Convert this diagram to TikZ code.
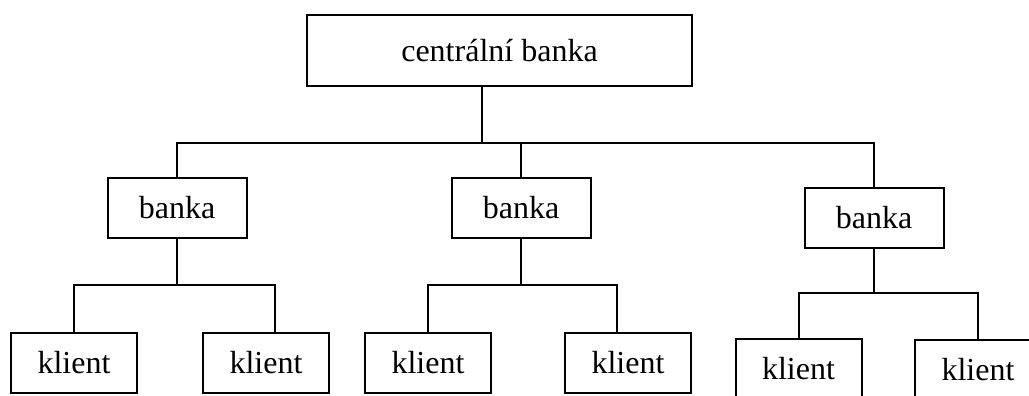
\documentclass[tikz,border=0pt]{standalone}
\usepackage{fontspec}
\setmainfont{Liberation Serif}
\usepackage{tikz}
\usetikzlibrary{positioning}

\begin{document}
\begin{tikzpicture}[x=0.5pt,y=-0.5pt,line width=1pt,
    box/.style={draw,line width=1pt,inner sep=0pt,font=\fontsize{16}{19}\selectfont},
    centralbox/.style={box,minimum width=192.5pt,minimum height=35.5pt},
    bankbox/.style={box,minimum width=69.5pt,minimum height=30pt},
    clientbox/.style={box,minimum width=63pt,minimum height=30pt}]
    \clip (0,0) rectangle (1029,396);

    \node[centralbox] (cb) at (499.5,50.5) {centrální banka};
    \node[bankbox] (b1) at (177,208) {banka};
    \node[bankbox] (b2) at (521,208) {banka};
    \node[bankbox] (b3) at (874,218) {banka};
    \node[clientbox] (k1) at (74,363) {klient};
    \node[clientbox] (k2) at (266,363) {klient};
    \node[clientbox] (k3) at (428,363) {klient};
    \node[clientbox] (k4) at (628,363) {klient};
    \node[clientbox] (k5) at (798.5,369) {klient};
    \node[clientbox] (k6) at (978,370) {klient};

    \draw ([xshift=-9pt]cb.south) -- ++(0,56) coordinate (bus);
    \draw (b1.north) |- (bus) -| (b3.north);
    \draw (b2.north) -- (b2.north |- bus);

    \draw (b1.south) -- ++(0,46) coordinate (g1);
    \draw (k1.north) |- (g1) -| ([xshift=4.5pt]k2.north);
    \draw (b2.south) -- ++(0,46) coordinate (g2);
    \draw (k3.north) |- (g2) -| ([xshift=-5.5pt]k4.north);
    \draw (b3.south) -- ++(0,44) coordinate (g3);
    \draw (k5.north) |- (g3) -| (k6.north);
\end{tikzpicture}
\end{document}
